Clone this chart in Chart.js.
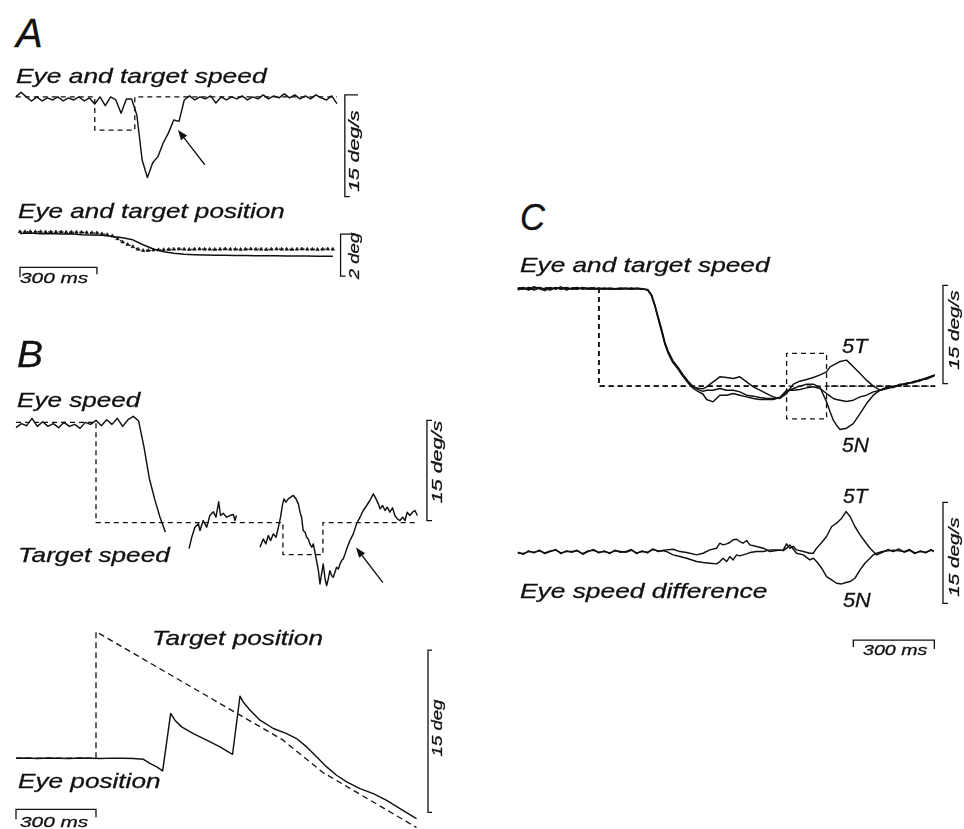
<!DOCTYPE html>
<html>
<head>
<meta charset="utf-8">
<title>Eye and target speed</title>
<script src="https://cdn.jsdelivr.net/npm/chart.js@4.4.0/dist/chart.umd.min.js"></script>
<style>
  html, body { margin: 0; padding: 0; background: #fff; }
  #fig { position: relative; width: 964px; height: 829px; overflow: hidden; }
  #fig canvas { position: absolute; }
  .lbl, .rot {
    position: absolute; white-space: nowrap; color: #111;
    font-family: "Liberation Sans", Arial, sans-serif; font-style: italic;
    -webkit-text-stroke: 0.3px #111;
  }
  .lbl { transform-origin: 0 0; }
</style>
</head>
<body>
<div id="fig"></div>
<script>
// ------------------------------------------------------------------
// Data (time in ms, speed in deg/s, position in deg)
// ------------------------------------------------------------------
function steps(a, b, d) { var r = []; for (var t = a; t <= b; t += d) r.push(t); return r; }

// A - eye and target speed
var tSpeedA = steps(0, 1220, 20);
var eyeSpeedA = [0.0, 0.7, 0.0, -0.6, 0.0, -0.6, -0.15, -0.45, 0.0, -0.6,
  -0.15, -0.45, 0.0, -0.6, -0.15, -1.05, 0.0, -1.3, 0.0, -0.45,
  -2.4, -0.3, -0.3, -2.7, -9.3, -11.9, -9.7, -8.8, -6.8, -5.3,
  -3.4, -3.6, -0.45, 0.15, -0.45, 0.0, -0.3, 0.15, -0.9, 0.0,
  -0.45, 0.0, -0.3, 0.15, -0.45, 0.0, -0.3, 0.3, -0.3, 0.15,
  -0.15, 0.45, -0.15, 0.3, -0.3, 0.15, -0.3, 0.3, -0.15, -0.45,
  0.15, -1.0];
var tTargetSpeedA = [0, 300, 300, 452, 452, 1220];
var targetSpeedA = [0, 0, -4.9, -4.9, 0, 0];

// A - eye and target position
var tEyePosA = steps(0, 1200, 40).concat([1220]);
var eyePosA = [0, 0.02, -0.02, 0, -0.03, -0.02, -0.06, -0.07, -0.09, -0.14,
  -0.2, -0.3, -0.53, -0.73, -0.86, -0.93, -0.98, -1.0, -1.01, -1.02,
  -1.02, -1.03, -1.03, -1.05, -1.05, -1.05, -1.06, -1.06, -1.06, -1.07,
  -1.07, -1.07];
var tTargetPosA = steps(0, 1220, 20);
var targetPosA = [0.08, 0.08, 0.08, 0.08, 0.08, 0.07, 0.07, 0.07, 0.07, 0.06,
  0.06, 0.06, 0.05, 0.04, 0.03, 0.02, -0.02, -0.06, -0.12, -0.25,
  -0.4, -0.52, -0.62, -0.74, -0.8, -0.8, -0.78, -0.77, -0.76, -0.75,
  -0.74, -0.73, -0.74, -0.75, -0.74, -0.73, -0.74, -0.74, -0.75, -0.74,
  -0.73, -0.74, -0.74, -0.75, -0.74, -0.73, -0.74, -0.74, -0.75, -0.74,
  -0.73, -0.74, -0.74, -0.75, -0.74, -0.73, -0.74, -0.74, -0.75, -0.74,
  -0.73, -0.74];

// B - eye speed (gaps = saccades removed) and target speed
var tEyeSpeedB = steps(0, 560, 20).concat([600,
  649, 659, 671, 684, 690, 702, 715, 727, 740, 750, 760, 767, 777, 790, 802, 815, 821, 827,
  870,
  915, 927, 937, 946, 955, 965, 975, 984, 992, 1000, 1005, 1012, 1021, 1030, 1040, 1050,
  1059, 1065, 1071, 1077, 1084, 1090, 1096, 1102, 1109, 1115, 1121, 1127, 1134, 1140,
  1146, 1152, 1159, 1165, 1171, 1177, 1184, 1190, 1196, 1202, 1209, 1215, 1221, 1227,
  1234, 1240, 1252, 1265, 1277, 1290, 1302, 1315, 1327, 1340, 1350, 1359, 1365, 1375,
  1384, 1392, 1402, 1412, 1421, 1430, 1440, 1450, 1459, 1467, 1477, 1487, 1496, 1505]);
var eyeSpeedB = [14.2, 14.8, 14.5, 15.6, 14.4, 15.1, 14.4, 14.8, 14.2, 15.0,
  14.4, 14.7, 14.1, 15.0, 14.7, 15.3, 14.5, 15.4, 14.7, 15.6,
  14.4, 15.4, 15.9, 15.2, 11.3, 6.6, 3.5, 0.8, -1.4,
  null,
  -3.9, -2.2, -0.7, -0.2, -1.2, 0.3, -0.7, 1.05, 1.6, 0.8, 3.1, 1.05, 1.4, 0.8, 1.05, 1.2, 0.3, 1.05,
  null,
  -3.7, -2.45, -3.2, -1.95, -2.7, -1.7, -2.2, -0.7, 0.8, 2.8, 3.55, 3.05, 3.55, 3.8, 4.05, 3.55,
  2.8, 1.55, 0.8, -1.2, -1.45, -2.2, -2.45, -3.2, -3.7, -3.2, -4.45, -5.7, -7.2, -9.2,
  -7.7, -6.2, -8.45, -9.45, -8.45, -7.2, -7.95, -8.2, -7.45, -6.7, -6.95, -6.2, -5.7, -5.45,
  -4.7, -3.95, -2.7, -1.7, -0.2, 0.8, 1.8, 2.55, 3.3, 4.3, 3.55, 2.8, 2.05, 2.55,
  1.8, 2.3, 1.55, 2.2, 1.05, 0.55, 0.3, 0.8, 0.3, 1.55, 1.05, 1.55, 1.8, 1.05];
var tTargetSpeedB = [0, 300, 300, 1001, 1001, 1151, 1151, 1507];
var targetSpeedB = [15, 15, 0, 0, -4.8, -4.8, 0, 0];

// B - eye and target position
var tEyePosB = [0, 40, 80, 120, 160, 200, 240, 280, 320, 360, 400, 440, 478, 502, 528, 550,
  580, 596, 621, 665, 715, 765, 812, 840, 852, 878, 915, 965, 1015, 1052, 1090, 1128,
  1165, 1202, 1240, 1290, 1340, 1390, 1440, 1502];
var eyePosB = [0.0, 0.03, -0.02, 0.02, 0.0, -0.03, 0.02, 0.0, -0.02, 0.01, 0.0, -0.02, -0.1, -0.48, -0.8, -1.17,
  4.14, 3.52, 2.9, 2.28, 1.67, 1.05, 0.37, 5.74, 5.2, 4.44, 3.52, 2.75, 2.28, 1.82, 1.05, 0.12,
  -0.8, -1.57, -2.19, -2.81, -3.27, -3.89, -4.66, -5.59];
var tTargetPosB = [0, 300, 300, 1000, 1150, 1502];
var targetPosB = [0, 0, 11.7, 1.7, -1.3, -6.4];

// C - eye speed for three conditions, and target speed
var tSpeedC = steps(0, 460, 20).concat([481, 495, 507, 519, 532, 544, 556, 574, 593, 611, 630, 648, 667, 685,
  699, 723, 748, 773, 798, 822, 847, 872, 896, 921, 946, 970, 995,
  1020, 1044, 1069, 1094, 1119, 1143, 1156, 1168, 1180, 1193, 1217, 1242, 1267, 1291, 1316, 1341,
  1365, 1390, 1415, 1440, 1464, 1489, 1514, 1544]);
var eyeSpeed5T = [14.7, 15.1, 14.8, 15.2, 14.9, 14.6, 15.1, 14.8, 15.2, 14.7, 15.0, 14.8,
  15.1, 14.9, 14.8, 15.0, 14.9, 14.8, 14.9, 15.0, 14.9, 14.8, 15.0, 14.9,
  14.7, 13.9, 12.4, 10.5, 8.6, 6.6, 5.25, 3.72, 2.76, 1.68, 0.66, -0.1, -0.3, -0.4,
  -0.1, 0.66, 1.43, 1.32, 1.17, 1.43, 0.66, -0.1, -0.62, -1.13, -1.64, -1.89, -1.13,
  0.3, 0.76, 1.02, 1.32, 1.73, 2.19, 2.96, 3.21, 3.47, 3.77, 3.98, 2.96, 1.94, 0.92, 0.0, -0.62,
  -0.2, -0.1, 0.3, 0.3, 0.7, 0.9, 1.3, 1.7];
var eyeSpeed5N = [14.9, 14.8, 15.1, 14.7, 15.0, 14.9, 14.7, 15.1, 14.8, 15.0, 14.9, 15.1,
  14.8, 15.0, 14.9, 14.8, 15.0, 14.9, 14.8, 14.9, 15.0, 14.8, 14.9, 14.9,
  14.7, 13.8, 12.3, 10.4, 8.4, 6.5, 5.1, 3.6, 2.6, 1.5, 0.5, -0.3, -0.8, -1.2,
  -2.04, -2.4, -1.38, -1.38, -1.13, -1.38, -1.64, -1.89, -2.04, -2.04, -2.04, -1.74, -0.87,
  -0.36, 0.0, 0.3, 0.3, -0.2, -2.4, -3.93, -5.21, -5.97, -6.64, -6.43, -5.72, -4.19, -2.66, -1.38, -0.62,
  -0.4, 0.0, 0.1, 0.5, 0.5, 1.0, 1.1, 1.6];
var eyeSpeedCtl = [14.8, 15.0, 14.7, 15.0, 15.1, 14.8, 14.9, 15.0, 14.9, 15.1, 14.8, 14.9,
  15.0, 14.8, 15.0, 14.9, 14.8, 15.0, 14.9, 14.8, 14.9, 15.0, 14.9, 14.8,
  14.8, 14.0, 12.5, 10.7, 8.8, 6.8, 5.4, 3.9, 2.9, 1.8, 0.8, 0.0, -0.5, -0.8,
  -0.62, -0.62, -0.36, -0.62, -0.62, -0.87, -1.38, -1.53, -1.74, -1.89, -1.89, -1.74, -0.62,
  -0.62, -0.51, -0.26, -0.1, -0.36, -1.13, -1.53, -1.89, -2.04, -2.15, -2.35, -2.15, -1.64, -1.38, -0.87, -0.62,
  -0.3, -0.2, 0.2, 0.4, 0.6, 0.8, 1.2, 1.7];
var tTargetC = [0, 300, 300, 995, 995, 1143, 1143, 1545];
var target5T = [15, 15, 0, 0, 5, 5, 0, 0];
var target5N = [15, 15, 0, 0, -5, -5, 0, 0];
var targetCtl = [15, 15, 0, 0, 0, 0, 0, 0];

// C - eye speed difference
var tDiffC = steps(0, 540, 20).concat([551, 575, 600, 625, 662, 686, 711, 736, 748, 760, 773, 785,
  797, 810, 822, 834, 847, 859, 884, 909, 933, 958, 983, 995, 1007, 1020, 1032, 1057, 1081, 1094,
  1106, 1125, 1143, 1162, 1180, 1199, 1215, 1230, 1248, 1267, 1285, 1304, 1316, 1328,
  1350, 1370, 1390, 1410, 1430, 1450, 1470, 1490, 1510, 1530, 1540]);
var diff5T = [0.1, -0.2, 0.3, 0.0, 0.4, -0.1, 0.2, 0.5, -0.1, 0.3, 0.1, 0.4, -0.2, 0.2,
  0.5, 0.0, 0.3, -0.1, 0.4, 0.1, 0.2, 0.5, -0.1, 0.3, 0.0, 0.6, 0.2, 0.4,
  0.45, 0.55, 0.2, 0.05, -0.29, -0.05, 0.45, 0.7, 1.44, 1.19, 1.34, 1.54, 1.94, 2.03, 1.69,
  1.44, 1.84, 1.19, 0.95, 0.7, 0.2, 0.35, 0.45, 1.34, 0.7, 0.95, 0.45, 0.2, -0.05, -0.05,
  0.7, 1.54, 2.43, 3.92, 4.41, 5.15, 6.14, 5.4, 3.92, 2.68, 1.69, 0.7, 0.2, -0.29,
  0.1, 0.5, 0.2, 0.6, 0.1, 0.4, -0.1, 0.3, 0.0, 0.5, 0.2];
var diff5N = [0.0, -0.1, 0.2, 0.1, 0.3, 0.0, 0.3, 0.4, 0.0, 0.2, 0.2, 0.3, -0.1, 0.3,
  0.4, 0.1, 0.2, 0.0, 0.3, 0.2, 0.1, 0.4, 0.0, 0.2, 0.1, 0.5, 0.3, 0.3,
  0.2, -0.29, -0.54, -0.79, -1.28, -1.43, -1.53, -1.63, -1.28, -0.79, -1.28, -0.54, -1.04, -0.29,
  -0.44, -0.29, -0.14, 0.05, 0.2, 0.2, 0.45, 0.45, 0.35, 0.7, 1.19, 0.55, -0.05, -0.29,
  -1.04, -0.79, -1.28, -2.27, -3.51, -4.01, -4.5, -4.6, -4.4, -4.25, -3.76, -2.52, -1.53, -0.79,
  -0.29, -0.05,
  0.2, 0.3, 0.4, 0.3, 0.2, 0.5, 0.0, 0.2, 0.1, 0.4, 0.3];

// ------------------------------------------------------------------
// Helpers
// ------------------------------------------------------------------
var fig = document.getElementById('fig');
var INK = '#111';

function trace(ts, vs) {
  return {
    data: ts.map(function (t, i) { return { x: t, y: vs[i] }; }),
    borderColor: INK, borderWidth: 1.45, borderJoinStyle: 'round',
    pointRadius: 0, spanGaps: false
  };
}
function dashed(ts, vs, dash) {
  var d = trace(ts, vs);
  d.borderDash = dash || [5, 4];
  d.borderWidth = 1.3;
  return d;
}

// scale bars and arrows drawn through the chart's own scales
var annot = {
  id: 'annot',
  afterDatasetsDraw: function (chart, args, o) {
    var ctx = chart.ctx, x = chart.scales.x, y = chart.scales.y;
    ctx.save();
    ctx.strokeStyle = INK; ctx.fillStyle = INK; ctx.lineWidth = 1.3;
    (o.vbars || []).forEach(function (b) {
      var px = x.getPixelForValue(b.t);
      var top = y.getPixelForValue(b.to), bot = y.getPixelForValue(b.from);
      ctx.beginPath();
      ctx.moveTo(px + b.tickTop, top); ctx.lineTo(px, top);
      ctx.lineTo(px, bot); ctx.lineTo(px + b.tickBot, bot);
      ctx.stroke();
    });
    (o.hbars || []).forEach(function (b) {
      var l = x.getPixelForValue(b.from), r = x.getPixelForValue(b.to), py = y.getPixelForValue(b.v);
      ctx.beginPath();
      ctx.moveTo(l, py + b.tickL); ctx.lineTo(l, py);
      ctx.lineTo(r, py); ctx.lineTo(r, py + b.tickR);
      ctx.stroke();
    });
    (o.arrows || []).forEach(function (a) {
      var x0 = x.getPixelForValue(a.t0), y0 = y.getPixelForValue(a.v0);
      var x1 = x.getPixelForValue(a.t1), y1 = y.getPixelForValue(a.v1);
      var ang = Math.atan2(y1 - y0, x1 - x0), L = 10, W = 3.8;
      var bx = x1 - L * Math.cos(ang), by = y1 - L * Math.sin(ang);
      ctx.beginPath(); ctx.moveTo(x0, y0); ctx.lineTo(bx, by); ctx.stroke();
      ctx.beginPath();
      ctx.moveTo(x1, y1);
      ctx.lineTo(bx + W * Math.sin(ang), by - W * Math.cos(ang));
      ctx.lineTo(bx - W * Math.sin(ang), by + W * Math.cos(ang));
      ctx.closePath(); ctx.fill();
    });
    ctx.restore();
  }
};

// geo: x0/y0 = page pixel of t=0 / value=0, px/py = pixels per unit
function panel(geo, datasets, extras) {
  var c = document.createElement('canvas');
  var w = Math.round((geo.xMax - geo.xMin) * geo.px);
  var h = Math.round((geo.yMax - geo.yMin) * geo.py);
  c.width = w; c.height = h;
  c.style.left = (geo.x0 + geo.xMin * geo.px) + 'px';
  c.style.top = (geo.y0 - geo.yMax * geo.py) + 'px';
  fig.appendChild(c);
  return new Chart(c, {
    type: 'line',
    data: { datasets: datasets },
    options: {
      responsive: false, animation: false, events: [],
      layout: { padding: 0 },
      plugins: { legend: { display: false }, tooltip: { enabled: false }, annot: extras || {} },
      scales: {
        x: { type: 'linear', display: false, min: geo.xMin, max: geo.xMax },
        y: { type: 'linear', display: false, min: geo.yMin, max: geo.yMax }
      },
      elements: { point: { radius: 0 }, line: { tension: 0 } }
    },
    plugins: [annot]
  });
}

// ------------------------------------------------------------------
// Panel A
// ------------------------------------------------------------------
panel({ x0: 16, px: 0.2631, y0: 97, py: 6.78, xMin: -60, xMax: 1300, yMin: -18, yMax: 5 }, [
  dashed(tTargetSpeedA, targetSpeedA),
  trace(tSpeedA, eyeSpeedA)
], {
  vbars: [{ t: 1250, from: -14.7, to: 0.3, tickTop: 14, tickBot: 5 }],
  arrows: [{ t0: 718, v0: -10.0, t1: 616, v1: -4.87 }]
});

var tgtA = dashed(tTargetPosA, targetPosA, [1.5, 2]);
tgtA.pointRadius = 2; tgtA.pointStyle = 'triangle';
tgtA.pointBackgroundColor = INK; tgtA.pointBorderColor = INK; tgtA.pointBorderWidth = 0.6;
panel({ x0: 16, px: 0.2631, y0: 231, py: 24.5, xMin: -60, xMax: 1300, yMin: -2.2, yMax: 0.6 }, [
  tgtA,
  trace(tEyePosA, eyePosA)
], {
  vbars: [{ t: 1250, from: -2.0, to: -0.03, tickTop: 15, tickBot: 5 }],
  hbars: [{ from: 0, to: 300, v: -1.59, tickL: 10, tickR: 7 }]
});

// ------------------------------------------------------------------
// Panel B
// ------------------------------------------------------------------
panel({ x0: 16, px: 0.2667, y0: 522, py: 6.67, xMin: -60, xMax: 1560, yMin: -11, yMax: 17 }, [
  dashed(tTargetSpeedB, targetSpeedB),
  trace(tEyeSpeedB, eyeSpeedB)
], {
  vbars: [{ t: 1541, from: 0.3, to: 15.3, tickTop: 6, tickBot: 6 }],
  arrows: [{ t0: 1376, v0: -9.0, t1: 1275, v1: -3.75 }]
});

panel({ x0: 16, px: 0.2667, y0: 758, py: 10.8, xMin: -60, xMax: 1560, yMin: -7, yMax: 12.5 }, [
  dashed(tTargetPosB, targetPosB, [6, 4]),
  trace(tEyePosB, eyePosB)
], {
  vbars: [{ t: 1545, from: -5, to: 10, tickTop: 12, tickBot: 12 }],
  hbars: [{ from: 0, to: 300, v: -4.72, tickL: 10, tickR: 8 }]
});

// ------------------------------------------------------------------
// Panel C
// ------------------------------------------------------------------
panel({ x0: 518, px: 0.27, y0: 386, py: 6.53, xMin: -40, xMax: 1600, yMin: -9, yMax: 17 }, [
  dashed(tTargetC, target5T),
  dashed(tTargetC, target5N),
  dashed(tTargetC, targetCtl),
  trace(tSpeedC, eyeSpeed5T),
  trace(tSpeedC, eyeSpeed5N),
  trace(tSpeedC, eyeSpeedCtl)
], {
  vbars: [{ t: 1574, from: 0.4, to: 15.4, tickTop: 5, tickBot: 5 }]
});

panel({ x0: 518, px: 0.27, y0: 553, py: 6.73, xMin: -40, xMax: 1600, yMin: -15, yMax: 8 }, [
  trace(tDiffC, diff5T),
  trace(tDiffC, diff5N)
], {
  vbars: [{ t: 1574, from: -7.5, to: 7.5, tickTop: 5, tickBot: 5 }],
  hbars: [{ from: 1242, to: 1542, v: -12.93, tickL: 7, tickR: 9 }]
});

// ------------------------------------------------------------------
// Text: [text, left, baseline, font size, width]
// ------------------------------------------------------------------
var labels = [
  ['A', 16, 47, 40, 27],
  ['Eye and target speed', 16, 83, 21, 251],
  ['Eye and target position', 18, 218, 21, 267],
  ['300 ms', 20, 283, 15, 68],
  ['B', 17, 367, 36, 26],
  ['Eye speed', 17, 407, 21, 123],
  ['Target speed', 18, 562, 21, 152],
  ['Target position', 152, 645, 21, 171],
  ['Eye position', 18, 788, 21, 142],
  ['300 ms', 20, 827, 15, 68],
  ['C', 520, 230, 36, 25],
  ['Eye and target speed', 520, 272, 21, 250],
  ['5T', 842, 353, 21, 26],
  ['5N', 842, 452, 21, 27],
  ['5T', 843, 503, 21, 25],
  ['Eye speed difference', 520, 598, 21, 247],
  ['5N', 843, 607, 21, 28],
  ['300 ms', 863, 655, 15, 64]
];
labels.forEach(function (l) {
  var d = document.createElement('div');
  d.className = 'lbl';
  d.textContent = l[0];
  d.style.fontSize = l[3] + 'px';
  d.style.lineHeight = l[3] + 'px';
  d.style.left = l[1] + 'px';
  d.style.top = (l[2] - 0.8465 * l[3]) + 'px';
  fig.appendChild(d);
  d.style.transform = 'scaleX(' + (l[4] / d.offsetWidth) + ')';
});

// rotated units: [text, centre x, centre y, font size, length]
var units = [
  ['15 deg/s', 353, 151, 15, 82],
  ['2 deg', 353, 256, 15, 47],
  ['15 deg/s', 436, 462, 15, 83],
  ['15 deg', 436, 728, 15, 57],
  ['15 deg/s', 953, 330, 15, 80],
  ['15 deg/s', 953, 557, 15, 80]
];
units.forEach(function (u) {
  var d = document.createElement('div');
  d.className = 'rot';
  d.textContent = u[0];
  d.style.fontSize = u[3] + 'px';
  d.style.lineHeight = u[3] + 'px';
  d.style.left = u[1] + 'px';
  d.style.top = u[2] + 'px';
  fig.appendChild(d);
  var k = u[4] / d.offsetWidth;
  d.style.transform = 'translate(-50%, -50%) rotate(-90deg) scaleX(' + k + ')';
});
</script>
</body>
</html>
